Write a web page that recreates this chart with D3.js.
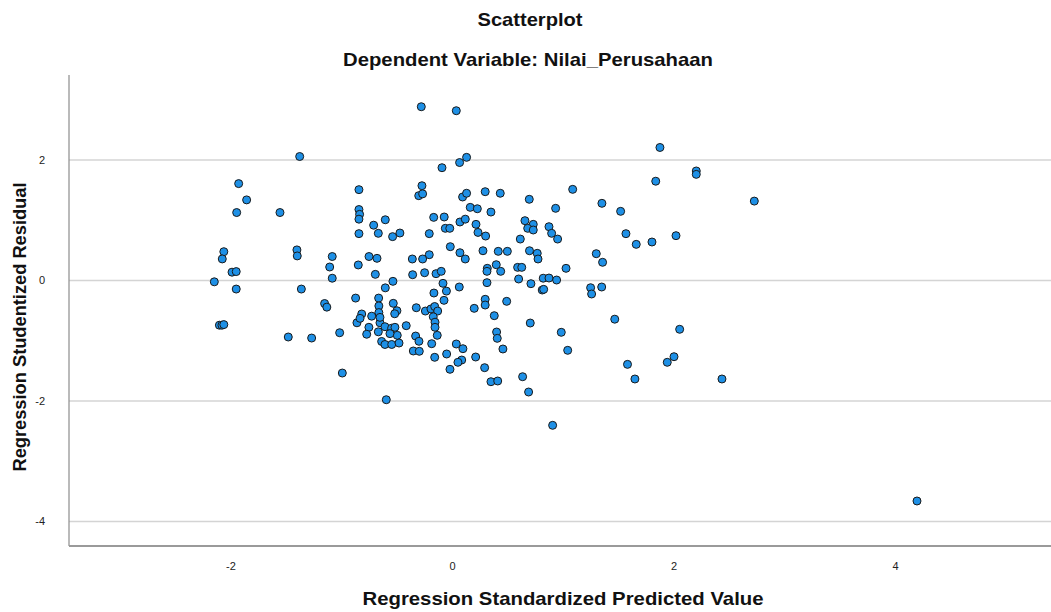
<!DOCTYPE html>
<html><head><meta charset="utf-8">
<script src="https://cdn.jsdelivr.net/npm/d3@7"></script>
<style>body{margin:0;background:#fff}svg{display:block}</style>
</head><body>
<svg id="c" width="1051" height="612"></svg>
<script>
const titleText = "Scatterplot";
const subtitleText = "Dependent Variable: Nilai_Perusahaan";
const xLabel = "Regression Standardized Predicted Value";
const yLabel = "Regression Studentized Residual";
const xTicks = [-2, 0, 2, 4];
const yTicks = [2, 0, -2, -4];
const predicted = [
-1.375,-1.926,-1.854,-1.944,-1.553,-0.840,-0.84,-0.834,-0.84,-0.602,-0.707,-0.665,-0.84,-2.06,-2.074,-1.40,-1.397,-1.081,-1.104,-1.081,
-0.749,-0.677,-0.846,-0.692,-1.986,-1.948,-2.146,-1.948,-1.36,-0.602,-1.15,-1.13,-0.87,-0.662,-2.10,-2.077,-2.06,-1.478,-1.267,-1.014,
-0.99,-0.593,-0.815,-0.725,-0.66,-0.66,-0.65,-0.858,-0.75,-0.77,-0.665,-0.635,-0.605,-0.83,-0.605,-0.545,-0.65,-0.497,
-0.277,0.039,-0.09,0.069,0.132,-0.271,-0.30,-0.265,0.096,0.132,0.30,0.436,1.09,0.698,0.936,0.165,0.229,0.352,-0.165,-0.07,0.072,0.12,
-0.06,-0.02,0.217,0.235,0.304,-0.205,-0.536,-0.47,0.659,0.734,0.684,0.734,0.876,0.90,0.954,0.617,-0.015,0.072,0.12,0.28,
0.418,0.50,0.70,0.77,0.777,-0.205,-0.358,-0.265,1.03,0.40,0.319,0.316,0.44,0.593,0.63,-0.355,-0.247,-0.144,-0.097,-0.533,
-0.081,0.316,0.602,0.713,0.824,0.876,0.945,0.815,0.828,0.066,-0.163,-0.05,-0.072,0.30,0.30,0.494,0.201,0.382,-0.322,-0.53,
-0.517,-0.24,-0.19,-0.156,-0.129,-0.169,-0.153,-0.153,-0.133,-0.413,-0.515,-0.494,-0.56,-0.544,-0.478,-0.328,-0.298,-0.183,-0.349,-0.295,
-0.156,-0.048,0.039,0.099,0.088,0.054,-0.018,0.214,0.295,0.403,0.409,0.46,0.707,0.987,1.045,0.352,0.413,0.638,0.692,0.909,
1.878,2.206,2.206,1.84,2.73,1.354,1.523,1.571,1.664,1.806,2.023,1.303,1.36,1.252,1.261,1.352,1.47,2.056,1.585,1.652,2.005,1.944,2.438,4.199
];
const residual = [
2.05,1.60,1.33,1.12,1.12,1.50,1.17,1.09,1.01,1.00,0.91,0.775,0.77,0.47,0.35,0.50,0.40,0.39,0.216,0.03,
0.39,0.36,0.25,0.094,0.13,0.14,-0.03,-0.15,-0.15,-0.13,-0.39,-0.45,-0.30,-0.30,-0.75,-0.75,-0.74,-0.946,-0.963,-0.875,
-1.544,-1.987,-0.564,-0.60,-0.43,-0.54,-0.71,-0.71,-0.785,-0.90,-0.86,-1.02,-1.07,-0.636,-0.775,-0.80,-0.62,-0.51,
2.876,2.81,1.864,1.95,2.036,1.565,1.40,1.43,1.378,1.44,1.466,1.44,1.505,1.34,1.19,1.206,1.183,1.128,1.04,1.046,0.963,1.01,
0.858,0.858,0.924,0.79,0.73,0.77,0.72,0.78,0.985,0.924,0.858,0.83,0.885,0.775,0.68,0.68,0.553,0.453,0.349,0.486,
0.476,0.476,0.486,0.443,0.349,0.42,0.349,0.349,0.194,0.254,0.194,0.144,0.144,0.21,0.21,0.088,0.121,0.105,0.144,-0.022,
-0.055,-0.044,0.017,-0.061,0.03,0.033,0.0,-0.166,-0.155,-0.116,-0.216,-0.184,-0.337,-0.32,-0.415,-0.354,-0.47,-0.592,-0.46,-0.387,
-0.56,-0.515,-0.48,-0.44,-0.515,-0.61,-0.70,-0.785,-0.918,-0.758,-0.785,-0.918,-0.89,-1.07,-1.046,-0.93,-1.017,-1.057,-1.178,-1.183,
-1.283,-1.228,-1.062,-1.14,-1.328,-1.366,-1.482,-1.278,-1.455,-0.863,-0.968,-1.145,-0.714,-0.868,-1.167,-1.688,-1.676,-1.605,-1.859,-2.412,
2.20,1.81,1.754,1.64,1.31,1.273,1.14,0.769,0.592,0.631,0.736,0.437,0.294,-0.128,-0.232,-0.116,-0.65,-0.818,-1.40,-1.643,-1.273,-1.366,-1.643,-3.668
];

const svg = d3.select("#c");
const L = 69, R = 1051, T = 75, B = 546;
const x = d3.scaleLinear().domain([-3.458, 5.409]).range([L, R]);
const y = d3.scaleLinear().domain([-4.415, 3.403]).range([B, T]);
const font = "'Liberation Sans', Arial, sans-serif";
const fmt = d => String(d);

// gridlines
svg.append("g").attr("transform", `translate(${L},0)`)
  .call(d3.axisLeft(y).tickValues(yTicks).tickSize(-(R - L)).tickFormat(""))
  .call(g => g.select(".domain").remove())
  .call(g => g.selectAll("line").attr("stroke", "#d4d4d4").attr("stroke-width", 1.6));

// y tick labels
svg.append("g").attr("transform", `translate(${L},0)`)
  .call(d3.axisLeft(y).tickValues(yTicks).tickSize(0).tickPadding(24).tickFormat(fmt))
  .call(g => g.select(".domain").remove())
  .call(g => g.selectAll("text").attr("font-family", font).attr("font-size", 11).attr("fill", "#222"));

// x tick labels
svg.append("g").attr("transform", `translate(0,${B})`)
  .call(d3.axisBottom(x).tickValues(xTicks).tickSize(0).tickPadding(16).tickFormat(fmt))
  .call(g => g.select(".domain").remove())
  .call(g => g.selectAll("text").attr("font-family", font).attr("font-size", 11).attr("fill", "#222"));

// axis lines
svg.append("line").attr("x1", L).attr("x2", L).attr("y1", T).attr("y2", B)
  .attr("stroke", "#8c8c8c").attr("stroke-width", 1.2);
svg.append("line").attr("x1", L).attr("x2", R).attr("y1", B).attr("y2", B)
  .attr("stroke", "#9a9a9a").attr("stroke-width", 2);

// points
const pts = predicted.map((v, i) => ({px: v, r: residual[i]}));
svg.append("g").selectAll("circle").data(pts).join("circle")
  .attr("cx", d => x(d.px)).attr("cy", d => y(d.r)).attr("r", 4)
  .attr("fill", "#1e90e6").attr("stroke", "#1a1a1a").attr("stroke-width", 1);

// titles
function label(txt, tx, ty, len, rot) {
  return svg.append("text")
    .attr("transform", `translate(${tx},${ty})` + (rot ? ` rotate(${rot})` : ""))
    .attr("text-anchor", "middle")
    .attr("font-family", font).attr("font-weight", "bold").attr("font-size", 18.5)
    .attr("fill", "#111").attr("textLength", len).attr("lengthAdjust", "spacingAndGlyphs")
    .text(txt);
}
label(titleText, 530, 26, 105);
label(subtitleText, 528, 66, 370);
label(xLabel, 563, 605, 401);
label(yLabel, 26, 327, 289, -90);
</script>
</body></html>
